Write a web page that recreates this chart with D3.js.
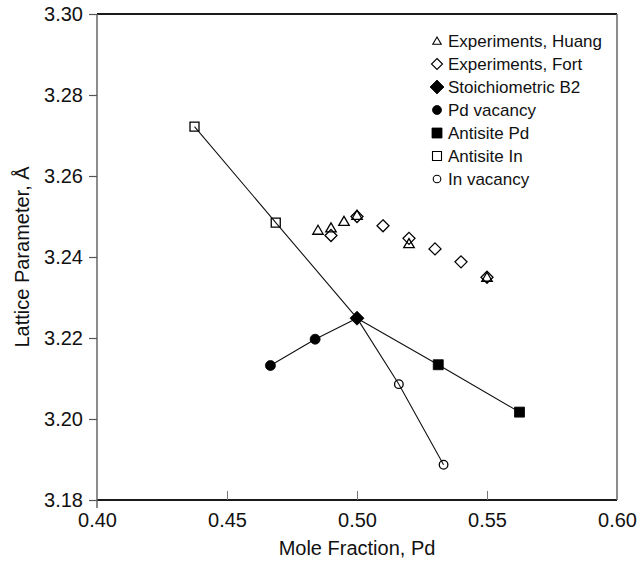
<!DOCTYPE html>
<html>
<head>
<meta charset="utf-8">
<script src="https://cdn.jsdelivr.net/npm/d3@7"></script>
<style>
  html, body { margin: 0; padding: 0; background: #fff; }
  svg { display: block; font-family: "Liberation Sans", Arial, Helvetica, sans-serif; }
</style>
</head>
<body>
<svg id="chart" width="637" height="564"></svg>
<script>
// Lattice parameter of B2 PdIn versus Pd mole fraction
const xTicks = [0.40, 0.45, 0.50, 0.55, 0.60];
const yTicks = [3.18, 3.20, 3.22, 3.24, 3.26, 3.28, 3.30];

const huangX = [0.485, 0.490, 0.495, 0.500, 0.520, 0.550];
const huangY = [3.2466, 3.2472, 3.2488, 3.2503, 3.2433, 3.2350];

const fortX = [0.490, 0.500, 0.510, 0.520, 0.530, 0.540, 0.550];
const fortY = [3.2453, 3.2500, 3.2477, 3.2446, 3.2420, 3.2388, 3.2350];

const b2X = [0.500];
const b2Y = [3.2249];

const pdVacX = [0.4667, 0.4839];
const pdVacY = [3.2132, 3.2197];

const antiPdX = [0.53125, 0.5625];
const antiPdY = [3.2134, 3.2017];

const antiInX = [0.4375, 0.46875];
const antiInY = [3.2722, 3.2485];

const inVacX = [0.5161, 0.5333];
const inVacY = [3.2086, 3.1887];

const legendLabels = ["Experiments, Huang", "Experiments, Fort", "Stoichiometric B2",
  "Pd vacancy", "Antisite Pd", "Antisite In", "In vacancy"];

const svg = d3.select("#chart");
const plotL = 97, plotR = 617, plotT = 14, plotB = 500;

const x = d3.scaleLinear().domain([0.40, 0.60]).range([plotL, plotR]);
const y = d3.scaleLinear().domain([3.18, 3.30]).range([plotB, plotT]);

const zip = (xs, ys) => xs.map((v, i) => [v, ys[i]]);

// marker shapes
const shapes = {
  triangle: r => `M0,${-r}L${r * 1.05},${r * 0.8}L${-r * 1.05},${r * 0.8}Z`,
  diamond: r => `M0,${-r}L${r},0L0,${r}L${-r},0Z`,
  square: r => `M${-r},${-r}H${r}V${r}H${-r}Z`,
  circle: r => `M${r},0A${r},${r} 0 1 1 ${-r},0A${r},${r} 0 1 1 ${r},0Z`
};

// frame
const frame = svg.append("g");
frame.append("line").attr("x1", plotL).attr("x2", plotR).attr("y1", plotT).attr("y2", plotT)
  .attr("stroke", "#1a1a1a").attr("stroke-width", 2);
frame.append("line").attr("x1", plotL).attr("x2", plotR).attr("y1", plotB).attr("y2", plotB)
  .attr("stroke", "#1a1a1a").attr("stroke-width", 2);
frame.append("line").attr("x1", plotL).attr("x2", plotL).attr("y1", plotT).attr("y2", plotB + 8)
  .attr("stroke", "#666").attr("stroke-width", 1.5);
frame.append("line").attr("x1", plotR).attr("x2", plotR).attr("y1", plotT).attr("y2", plotB)
  .attr("stroke", "#666").attr("stroke-width", 1.5);

// y axis
const yAxis = svg.append("g").attr("transform", `translate(${plotL},0)`)
  .call(d3.axisLeft(y).tickValues(yTicks).tickFormat(d3.format(".2f")).tickSize(8).tickPadding(6));
yAxis.select(".domain").remove();
yAxis.selectAll(".tick line").attr("stroke", "#555").attr("stroke-width", 1.2);
yAxis.selectAll(".tick text").attr("font-size", 20).attr("fill", "#111")
  .attr("font-family", "Liberation Sans, Arial, sans-serif");

// x axis, ticks pointing inward
const xAxis = svg.append("g").attr("transform", `translate(0,${plotB})`)
  .call(d3.axisBottom(x).tickValues(xTicks).tickFormat(d3.format(".2f")).tickSize(-9).tickPadding(13));
xAxis.select(".domain").remove();
xAxis.selectAll(".tick line").attr("stroke", "#777").attr("stroke-width", 1)
  .filter(d => d === 0.40 || d === 0.60).remove();
xAxis.selectAll(".tick text").attr("font-size", 20).attr("fill", "#111")
  .attr("font-family", "Liberation Sans, Arial, sans-serif");

// axis titles
svg.append("text").attr("x", (plotL + plotR) / 2).attr("y", 555)
  .attr("text-anchor", "middle").attr("font-size", 20).attr("fill", "#111")
  .text("Mole Fraction, Pd");
svg.append("text").attr("transform", `translate(29,${(plotT + plotB) / 2}) rotate(-90)`)
  .attr("text-anchor", "middle").attr("font-size", 20).attr("fill", "#111")
  .text("Lattice Parameter, Å");

// connecting lines: each defect branch meets the stoichiometric point
const line = d3.line().x(d => x(d[0])).y(d => y(d[1]));
const b2 = zip(b2X, b2Y)[0];
const branches = [
  [...zip(antiInX, antiInY), b2],
  [b2, ...zip(inVacX, inVacY)],
  [...zip(pdVacX, pdVacY), b2],
  [b2, ...zip(antiPdX, antiPdY)]
];
svg.append("g").selectAll("path").data(branches).join("path")
  .attr("d", line).attr("fill", "none").attr("stroke", "#111").attr("stroke-width", 1.1);

// markers
function drawMarkers(xs, ys, shape, r, filled) {
  svg.append("g").selectAll("path").data(zip(xs, ys)).join("path")
    .attr("transform", d => `translate(${x(d[0])},${y(d[1])})`)
    .attr("d", shapes[shape](r))
    .attr("fill", filled ? "#000" : "none")
    .attr("stroke", "#000").attr("stroke-width", filled ? 0.8 : 1.3);
}
drawMarkers(fortX, fortY, "diamond", 6, false);
drawMarkers(huangX, huangY, "triangle", 5, false);
drawMarkers(antiInX, antiInY, "square", 4.5, false);
drawMarkers(inVacX, inVacY, "circle", 4.3, false);
drawMarkers(pdVacX, pdVacY, "circle", 5, true);
drawMarkers(antiPdX, antiPdY, "square", 5, true);
drawMarkers(b2X, b2Y, "diamond", 7, true);

// legend
const legendSyms = [
  ["triangle", 4, false], ["diamond", 5.5, false], ["diamond", 7, true],
  ["circle", 4.5, true], ["square", 5, true], ["square", 4.5, false], ["circle", 3.8, false]
];
const lg = svg.append("g").attr("transform", "translate(437,41)");
legendLabels.forEach((lab, i) => {
  const [shape, r, filled] = legendSyms[i];
  const row = lg.append("g").attr("transform", `translate(0,${i * 23})`);
  row.append("path").attr("d", shapes[shape](r))
    .attr("fill", filled ? "#000" : "none").attr("stroke", "#000")
    .attr("stroke-width", filled ? 0.8 : 1.1);
  row.append("text").attr("x", 11).attr("y", 6).attr("font-size", 17).attr("fill", "#111")
    .text(lab);
});
</script>
</body>
</html>
